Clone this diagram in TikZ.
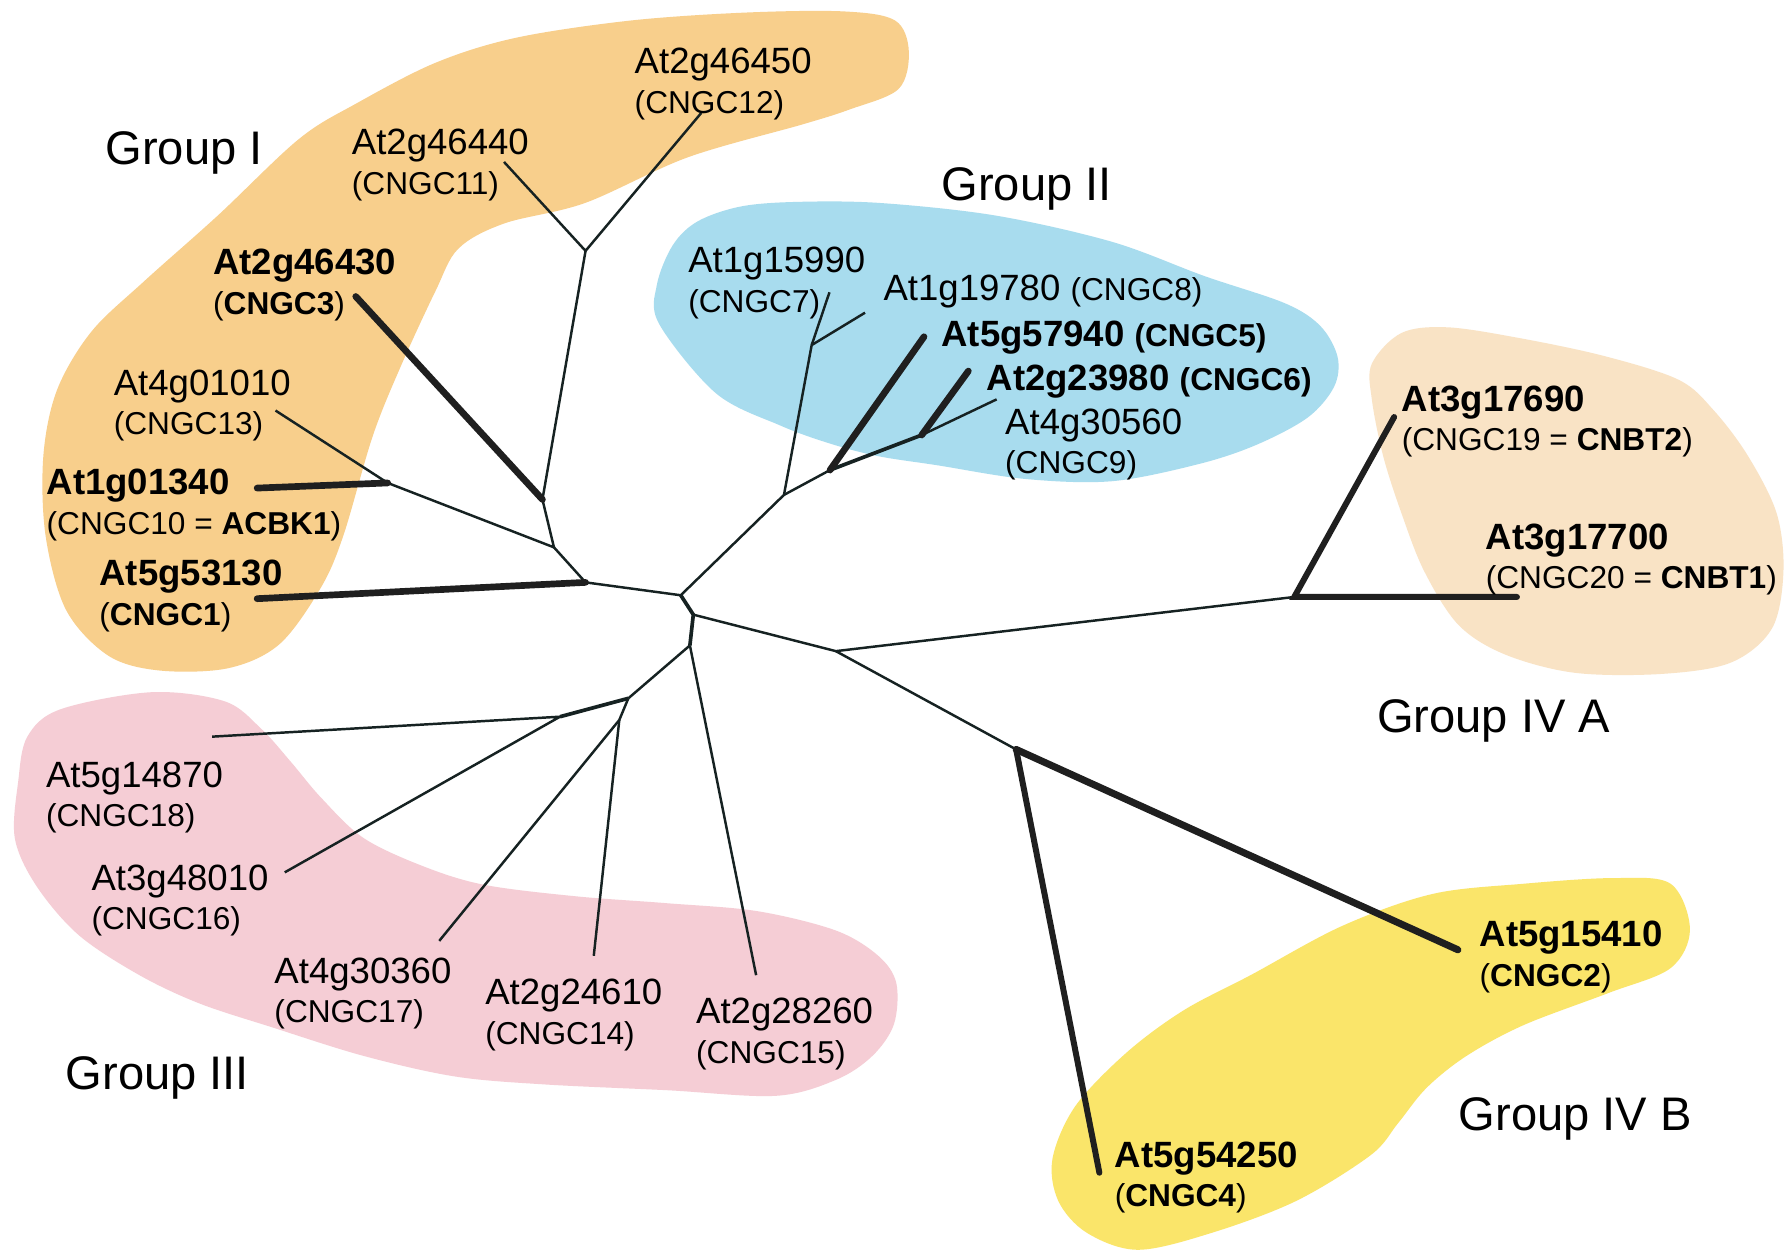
\documentclass[tikz,border=0pt]{standalone}
\usepackage{fontspec}
\setmainfont{Liberation Sans}
\usepackage{tikz}
\definecolor{grpI}{RGB}{248,207,140}
\definecolor{grpII}{RGB}{168,220,238}
\definecolor{grpIII}{RGB}{245,205,213}
\definecolor{grpIVA}{RGB}{249,227,197}
\definecolor{grpIVB}{RGB}{250,229,106}
\definecolor{branch}{RGB}{22,34,34}
\newcommand{\genesize}{\fontsize{10.4}{11.2}\selectfont}
\newcommand{\cngc}[1]{{\fontsize{9}{11.2}\selectfont #1}}

\begin{document}
\begin{tikzpicture}[x=0.011403cm,y=-0.011403cm,
	gene/.style={anchor=north west,inner sep=0pt,align=left,font=\genesize},
	grp/.style={anchor=north west,inner sep=0pt,font=\fontsize{13.4}{16}\selectfont},
	twig/.style={draw=branch,line width=0.7pt},
	limb/.style={draw=branch,line width=1.05pt},
	heavy/.style={draw=black!88,line width=1.9pt,line cap=round}]
	\useasboundingbox[fill=white] (0,0) rectangle (1568,1099);
	% coloured groups
	\fill[grpI] plot[smooth cycle,tension=0.55] coordinates {(140,588) (95,575) (58,535) (40,470) (38,400) (50,342) (80,291) (126,247) (191,189) (262,122) (312,91) (382,55) (453,33) (553,18) (654,11) (740,10) (785,18) (797,45) (788,78) (745,96) (704,109) (603,138) (513,178) (442,196) (402,218) (382,255) (352,320) (327,382) (301,470) (281,516) (245,565) (200,586)};
	\fill[grpII] plot[smooth cycle,tension=0.55] coordinates {(578,284) (576,250) (590,215) (612,194) (650,181) (700,177) (772,178) (873,189) (975,212) (1056,242) (1127,266) (1158,286) (1173,313) (1170,339) (1147,366) (1102,390) (1051,407) (975,422) (899,420) (822,408) (770,400) (728,389) (684,373) (628,345)};
	\fill[grpIII] plot[smooth cycle,tension=0.55] coordinates {(24,646) (53,622) (133,607) (197,615) (229,639) (255,668) (282,700) (319,735) (372,760) (425,776) (505,786) (584,792) (664,799) (733,816) (770,838) (786,862) (784,898) (765,926) (733,947) (680,961) (584,956) (478,951) (399,944) (319,926) (239,901) (175,880) (122,855) (69,820) (32,777) (13,735) (16,685)};
	\fill[grpIVA] plot[smooth cycle,tension=0.55] coordinates {(1203,319) (1229,292) (1269,287) (1330,296) (1406,312) (1472,333) (1503,360) (1533,400) (1558,450) (1564,501) (1554,551) (1518,581) (1457,591) (1381,590) (1320,574) (1279,548) (1249,501) (1229,450) (1213,400) (1203,350)};
	\fill[grpIVB] plot[smooth cycle,tension=0.55] coordinates {(1465,775) (1482,815) (1465,849) (1410,871) (1336,899) (1286,926) (1251,954) (1226,985) (1202,1013) (1137,1053) (1063,1081) (998,1096) (953,1081) (928,1053) (923,1016) (943,970) (988,923) (1038,886) (1097,855) (1177,812) (1256,784) (1336,775) (1415,770)};
	% tree
	\path (597,522) coordinate(nF) (608,539) coordinate(nF2) (605,566) coordinate(nK) (733,571) coordinate(nJ)
		(513.5,220) coordinate(nA) (475.7,438) coordinate(nB) (485.8,480) coordinate(nC) (340,423.5) coordinate(nD) (513.5,510.7) coordinate(nE)
		(615,99) coordinate(l12) (442,142) coordinate(l11) (312,260) coordinate(l3) (241.6,360) coordinate(l13) (225.5,428) coordinate(l10) (225.5,525) coordinate(l1)
		(687.5,434) coordinate(nG) (711.8,302.6) coordinate(nH) (727.9,412.2) coordinate(nI) (808.3,381.5) coordinate(nP)
		(727.4,256.3) coordinate(l7) (758.6,274.2) coordinate(l8) (810.3,295.3) coordinate(l5) (849.2,325.4) coordinate(l6) (874,350.2) coordinate(l9)
		(551,612.4) coordinate(nL) (491.1,628.5) coordinate(nM) (543.1,631.4) coordinate(nN)
		(186,646) coordinate(l18) (249.7,765) coordinate(l16) (385.2,825.1) coordinate(l17) (520.7,838.2) coordinate(l14) (663.1,855.2) coordinate(l15)
		(1135,523.5) coordinate(nQ) (1222.6,365.7) coordinate(l19) (1330.3,523.5) coordinate(l20)
		(891.1,657.2) coordinate(nR) (1278.5,832.9) coordinate(l2) (964.1,1028.4) coordinate(l4);
	\draw[twig] (l12)--(nA)--(l11);
	\draw[twig] (nA)--(nB)--(nC)--(nD)--(l13);
	\draw[twig] (nC)--(nE)--(nF)--(nG)--(nH)--(l7);
	\draw[twig] (nH)--(l8);
	\draw[twig] (nG)--(nI);
	\draw[limb] (nI)--(nP);
	\draw[twig] (nP)--(l9);
	\draw[limb] (nF)--(nF2)--(nK);
	\draw[twig] (nF2)--(nJ)--(nQ);
	\draw[twig] (nJ)--(nR);
	\draw[twig] (nK)--(nL);
	\draw[twig] (nK)--(l15);
	\draw[limb] (nL)--(nM);
	\draw[twig] (l18)--(nM)--(l16);
	\draw[twig] (nL)--(nN)--(l17);
	\draw[twig] (nN)--(l14);
	\draw[heavy] (nB)--(l3);
	\draw[heavy] (nD)--(l10);
	\draw[heavy] (nE)--(l1);
	\draw[heavy] (nI)--(l5);
	\draw[heavy] (nP)--(l6);
	\draw[heavy,line width=1.7pt] (l19)--(nQ)--(l20);
	\draw[heavy,line width=2pt] (nR)--(l2);
	\draw[heavy,line width=1.7pt] (nR)--(l4);
	% group names
	\node[grp] (grp1) at (92,115) {Group I};
	\node[grp] (grp2) at (825,146) {Group II};
	\node[grp] (grp3) at (57,926) {Group III};
	\node[grp] (grp4a) at (1207,613) {Group IV A};
	\node[grp] (grp4b) at (1278.6,962) {Group IV B};
	% gene labels
	\node[gene] (at2g46450) at (556,41.8) {At2g46450\\\cngc{(CNGC12)}};
	\node[gene] (at2g46440) at (308,112.7) {At2g46440\\\cngc{(CNGC11)}};
	\node[gene] (at2g46430) at (186.3,218.1) {\textbf{At2g46430}\\\cngc{(\textbf{CNGC3})}};
	\node[gene] (at4g01010) at (99.2,323.5) {At4g01010\\\cngc{(CNGC13)}};
	\node[gene] (at1g01340) at (40.3,410.8) {\textbf{At1g01340}\\\cngc{(CNGC10 = \textbf{ACBK1})}};
	\node[gene] (at5g53130) at (86.6,490.7) {\textbf{At5g53130}\\\cngc{(\textbf{CNGC1})}};
	\node[gene] (at1g15990) at (603,216.3) {At1g15990\\\cngc{(CNGC7)}};
	\node[gene] (at1g19780) at (774.2,240.6) {At1g19780 \cngc{(CNGC8)}};
	\node[gene] (at5g57940) at (825,280.8) {\textbf{At5g57940 \cngc{(CNGC5)}}};
	\node[gene] (at2g23980) at (864.6,319.4) {\textbf{At2g23980 \cngc{(CNGC6)}}};
	\node[gene] (at4g30560) at (880.9,358) {At4g30560\\\cngc{(CNGC9)}};
	\node[gene] (at3g17690) at (1228.7,337.9) {\textbf{At3g17690}\\\cngc{(CNGC19 = \textbf{CNBT2})}};
	\node[gene] (at3g17700) at (1302.4,458.7) {\textbf{At3g17700}\\\cngc{(CNGC20 = \textbf{CNBT1})}};
	\node[gene] (at5g14870) at (39.8,667.6) {At5g14870\\\cngc{(CNGC18)}};
	\node[gene] (at3g48010) at (79.7,757.9) {At3g48010\\\cngc{(CNGC16)}};
	\node[gene] (at4g30360) at (240.1,839.3) {At4g30360\\\cngc{(CNGC17)}};
	\node[gene] (at2g24610) at (425,858) {At2g24610\\\cngc{(CNGC14)}};
	\node[gene] (at2g28260) at (609.9,874.7) {At2g28260\\\cngc{(CNGC15)}};
	\node[gene] (at5g15410) at (1297,807.2) {\textbf{At5g15410}\\\cngc{(\textbf{CNGC2})}};
	\node[gene] (at5g54250) at (977,1000.5) {\textbf{At5g54250}\\\cngc{(\textbf{CNGC4})}};
\end{tikzpicture}
\end{document}
